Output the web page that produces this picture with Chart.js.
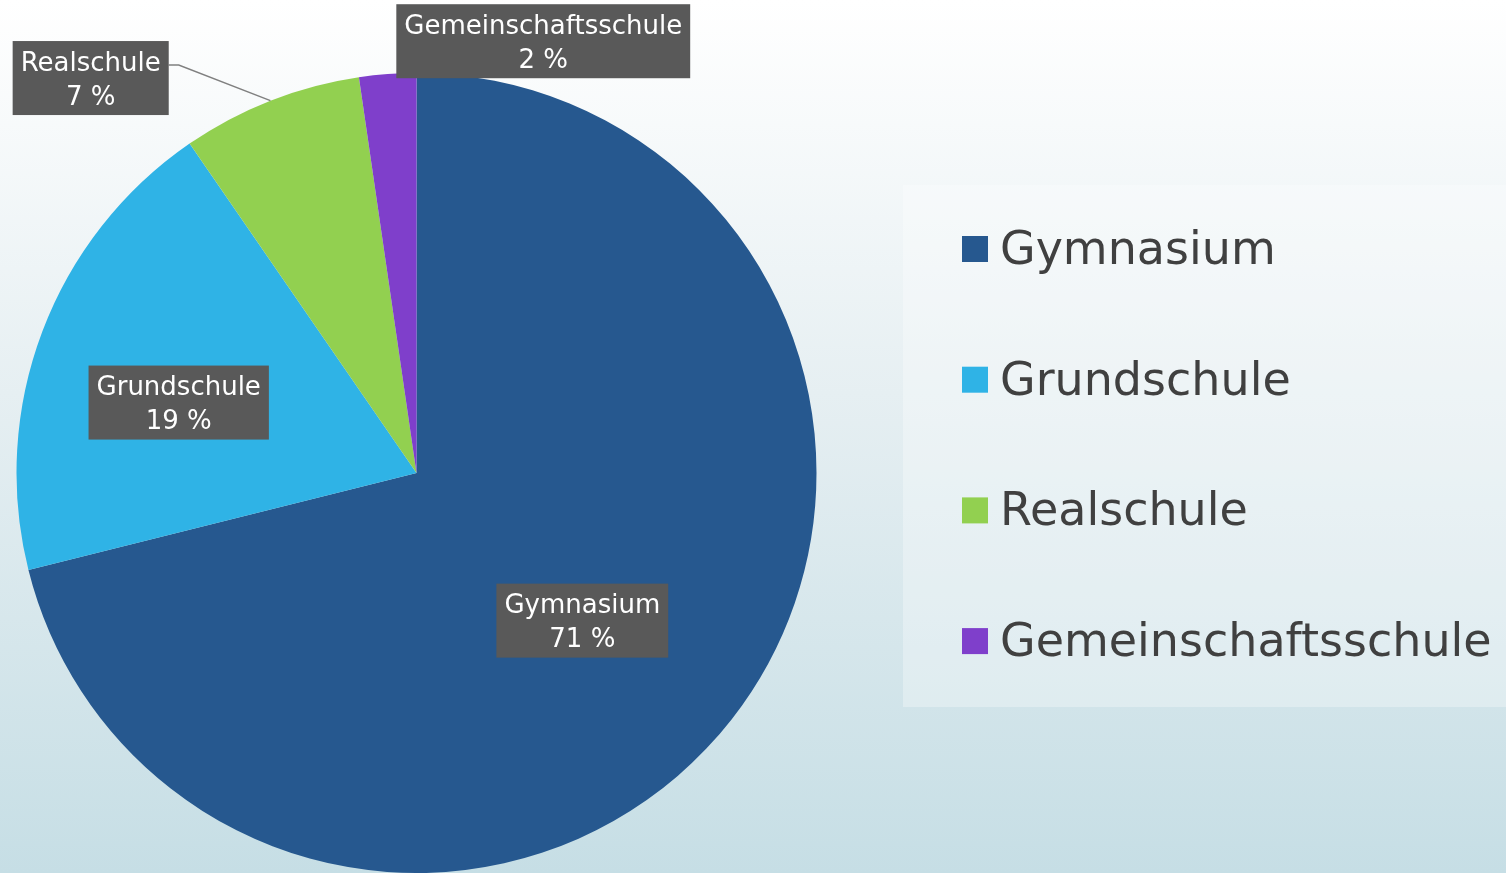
<!DOCTYPE html>
<html>
<head>
<meta charset="utf-8">
<title>Schularten</title>
<script src="https://cdn.jsdelivr.net/npm/chart.js@4/dist/chart.umd.min.js"></script>
<style>
	html, body {
		margin: 0;
		padding: 0;
		width: 1506px;
		height: 873px;
		overflow: hidden;
		background: linear-gradient(to bottom, #ffffff 0%, #e6eff2 45%, #c6dee5 100%);
	}
	#wrap {
		position: relative;
		width: 1506px;
		height: 873px;
	}
</style>
</head>
<body>
<div id="wrap"><canvas id="chart" width="1506" height="873"></canvas></div>
<script>
var categories = ["Gymnasium", "Grundschule", "Realschule", "Gemeinschaftsschule"];
var shares = [71.1, 19.3, 7.3, 2.3];
var colours = ["#26588f", "#2fb3e6", "#92d050", "#7f3fcb"];

// where each data label sits: distance from the centre (in radii) and
// angle shift from the middle of its slice (degrees)
var labelPlacement = [
	{ radius: 0.555, shift: 3.7, leader: false },
	{ radius: 0.62, shift: -4.2, leader: false },
	{ radius: 1.28, shift: -18.1, leader: true },
	{ radius: 1.125, shift: 20.5, leader: false },
];

var FONT = "'DejaVu Sans', 'Noto Sans', sans-serif";

var dataLabels = {
	id: "dataLabels",
	afterDatasetsDraw: function (chart) {
		var ctx = chart.ctx;
		var meta = chart.getDatasetMeta(0);

		ctx.save();
		ctx.font = "26px " + FONT;
		ctx.textAlign = "center";
		ctx.textBaseline = "middle";

		meta.data.forEach(function (arc, i) {
			var p = arc.getProps(["x", "y", "outerRadius", "startAngle", "endAngle"], true);
			var place = labelPlacement[i];
			var mid = (p.startAngle + p.endAngle) / 2;
			var a = mid + place.shift * Math.PI / 180;
			var cx = p.x + Math.cos(a) * p.outerRadius * place.radius;
			var cy = p.y + Math.sin(a) * p.outerRadius * place.radius;

			var lines = [chart.data.labels[i], Math.round(chart.data.datasets[0].data[i]) + " %"];
			var w = Math.max(ctx.measureText(lines[0]).width, ctx.measureText(lines[1]).width) + 16;
			var h = 74;
			var left = cx - w / 2;
			var top = cy - h / 2;

			if (place.leader) {
				var ex = p.x + Math.cos(mid) * p.outerRadius;
				var ey = p.y + Math.sin(mid) * p.outerRadius;
				ctx.strokeStyle = "#808080";
				ctx.lineWidth = 1.5;
				ctx.beginPath();
				ctx.moveTo(left + w, top + 24);
				ctx.lineTo(left + w + 10, top + 24);
				ctx.lineTo(ex, ey);
				ctx.stroke();
			}

			ctx.fillStyle = "#595959";
			ctx.fillRect(left, top, w, h);
			ctx.fillStyle = "#ffffff";
			ctx.fillText(lines[0], cx, cy - 14);
			ctx.fillText(lines[1], cx, cy + 20);
		});

		ctx.restore();
	},
};

// legend panel on the right, drawn from the chart's labels and colours
var legendPanel = {
	id: "legendPanel",
	afterDraw: function (chart) {
		var ctx = chart.ctx;
		var ds = chart.data.datasets[0];
		var box = { x: 903, y: 185, w: 603, h: 522 };

		ctx.save();
		ctx.fillStyle = "rgba(255, 255, 255, 0.3)";
		ctx.fillRect(box.x, box.y, box.w, box.h);

		ctx.font = "46px " + FONT;
		ctx.textAlign = "left";
		ctx.textBaseline = "middle";

		chart.data.labels.forEach(function (label, i) {
			var y = box.y + 64 + i * 130.7;
			ctx.fillStyle = ds.backgroundColor[i];
			ctx.fillRect(box.x + 59, y - 13, 26, 26);
			ctx.fillStyle = "#404040";
			ctx.fillText(label, box.x + 97, y + 3);
		});

		ctx.restore();
	},
};

new Chart(document.getElementById("chart"), {
	type: "pie",
	data: {
		labels: categories,
		datasets: [{
			data: shares,
			backgroundColor: colours,
			borderWidth: 0,
		}],
	},
	options: {
		responsive: false,
		animation: false,
		layout: {
			padding: { left: 13, top: 73, right: 686, bottom: -1 },
		},
		plugins: {
			legend: { display: false },
			tooltip: { enabled: false },
		},
	},
	plugins: [dataLabels, legendPanel],
});
</script>
</body>
</html>
